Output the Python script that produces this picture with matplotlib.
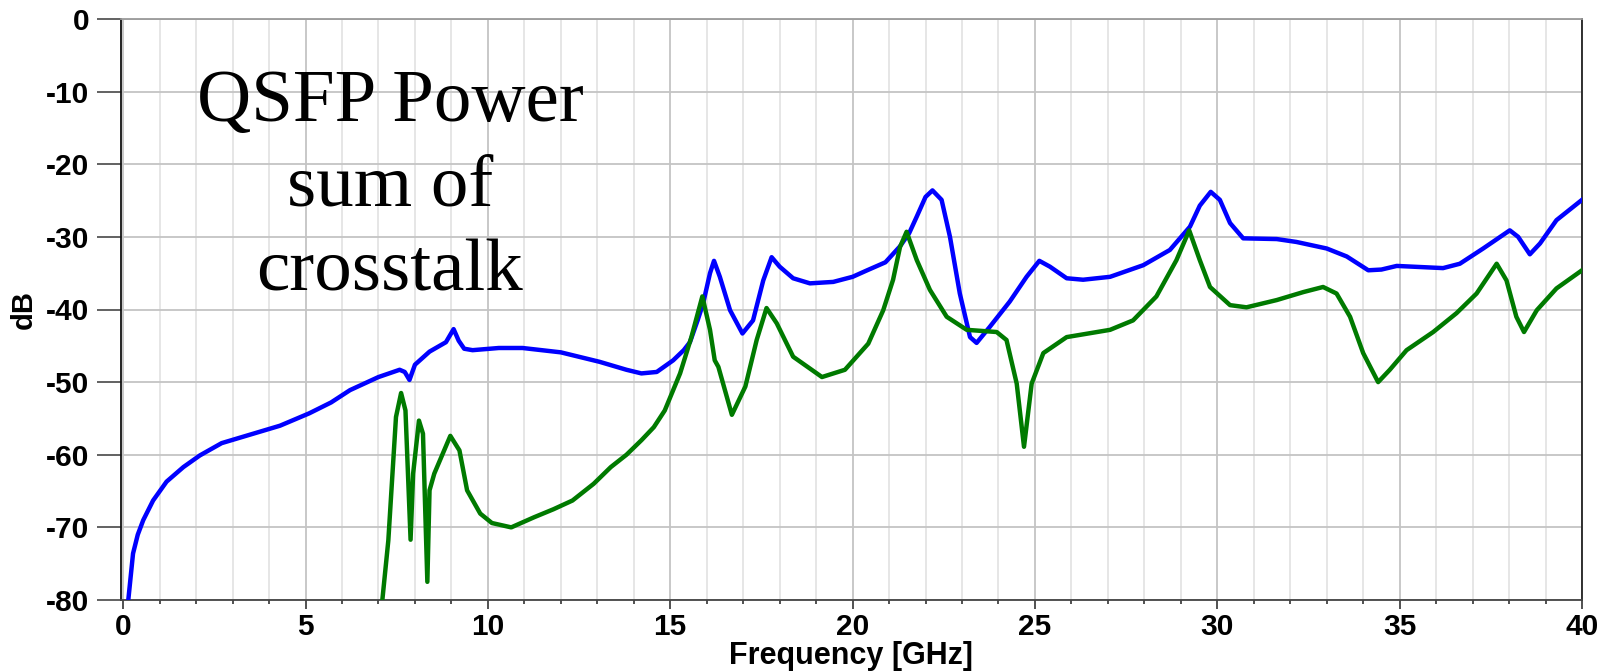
import numpy as np
import matplotlib
matplotlib.use("Agg")
import matplotlib.pyplot as plt
from matplotlib.ticker import MultipleLocator

# blue trace (GHz, dB)
blue_f = [0.08, 0.14, 0.27, 0.4, 0.55, 0.82, 1.19, 1.65, 2.1, 2.7, 3.5, 4.3, 5.1, 5.7,
          6.22, 7.0, 7.58, 7.72, 7.85, 8.0, 8.4, 8.85, 9.06, 9.2, 9.35, 9.58, 10.3,
          10.95, 12.0, 13.06, 13.8, 14.21, 14.63, 15.08, 15.37, 15.54, 15.75, 15.9,
          16.09, 16.2, 16.36, 16.64, 16.98, 17.27, 17.55, 17.78, 18.0, 18.37, 18.83,
          19.47, 20.0, 20.4, 20.9, 21.3, 21.55, 21.76, 22.0, 22.19, 22.44, 22.67,
          22.94, 23.22, 23.4, 23.76, 24.31, 24.77, 25.12, 25.41, 25.87, 26.32, 27.06,
          27.97, 28.7, 29.25, 29.52, 29.82, 30.07, 30.35, 30.71, 31.63, 32.17, 33.0,
          33.55, 34.14, 34.5, 34.92, 36.19, 36.65, 37.29, 38.02, 38.25, 38.57, 38.85,
          39.3, 40.0]
blue_db = [-82, -80, -73.6, -71, -69.0, -66.3, -63.7, -61.7, -60.1, -58.4, -57.2, -56.0,
           -54.3, -52.8, -51.1, -49.3, -48.3, -48.6, -49.7, -47.6, -45.8, -44.5, -42.7,
           -44.3, -45.4, -45.6, -45.3, -45.3, -45.9, -47.2, -48.3, -48.8, -48.6, -47.0,
           -45.6, -44.5, -41.5, -39.2, -35.0, -33.3, -35.5, -40.1, -43.3, -41.5, -36.0,
           -32.8, -34.1, -35.7, -36.4, -36.2, -35.5, -34.6, -33.5, -31.3, -29.5, -27.2,
           -24.5, -23.6, -24.9, -30.0, -37.8, -43.8, -44.6, -42.4, -38.9, -35.5, -33.3,
           -34.1, -35.7, -35.9, -35.5, -33.9, -31.8, -28.6, -25.7, -23.8, -24.9, -28.1,
           -30.2, -30.3, -30.7, -31.6, -32.7, -34.6, -34.5, -34.0, -34.3, -33.7, -31.6,
           -29.1, -30.0, -32.4, -30.9, -27.7, -24.9]

# green trace (GHz, dB)
green_f = [6.98, 7.11, 7.27, 7.48, 7.62, 7.74, 7.88, 7.95, 8.11, 8.22, 8.34, 8.4, 8.53,
           8.97, 9.22, 9.43, 9.79, 10.11, 10.64, 11.27, 11.8, 12.32, 12.9, 13.37, 13.8,
           14.21, 14.55, 14.85, 15.27, 15.58, 15.88, 16.09, 16.22, 16.32, 16.69, 17.06,
           17.37, 17.64, 17.92, 18.37, 19.16, 19.79, 20.43, 20.84, 21.11, 21.3, 21.48,
           21.76, 22.12, 22.58, 23.13, 23.95, 24.22, 24.5, 24.7, 24.91, 25.23, 25.87,
           27.06, 27.69, 28.33, 28.88, 29.23, 29.52, 29.8, 30.35, 30.8, 31.63, 32.36,
           32.9, 33.27, 33.64, 34.0, 34.41, 34.73, 35.19, 35.92, 36.56, 37.11, 37.66,
           37.93, 38.2, 38.41, 38.76, 39.3, 40.0]
green_db = [-86, -79.8, -71.8, -54.8, -51.5, -53.9, -71.7, -62.6, -55.3, -57.1, -77.5,
            -64.9, -62.6, -57.4, -59.4, -64.9, -68.1, -69.4, -70.0, -68.6, -67.5, -66.3,
            -64.0, -61.7, -60.0, -58.0, -56.2, -53.9, -48.8, -43.8, -38.2, -42.8, -47.0,
            -47.9, -54.5, -50.6, -44.2, -39.8, -41.9, -46.5, -49.3, -48.3, -44.7, -40.1,
            -35.9, -31.4, -29.3, -33.2, -37.3, -41.0, -42.8, -43.1, -44.2, -50.2, -58.9,
            -50.2, -46.0, -43.8, -42.8, -41.5, -38.2, -33.2, -29.1, -33.2, -36.9, -39.4,
            -39.7, -38.7, -37.6, -36.9, -37.8, -41.0, -46.0, -50.0, -48.3, -45.6, -43.1,
            -40.5, -37.8, -33.7, -36.0, -41.0, -43.1, -40.1, -37.1, -34.6]

title_lines = ["QSFP Power", "sum of", "crosstalk"]

plt.rcParams['font.family'] = ['Liberation Sans', 'DejaVu Sans']
plt.rcParams['axes.unicode_minus'] = False

fig = plt.figure(figsize=(16.24, 6.72), dpi=100)
ax = fig.add_axes([121 / 1624, 1 - 600 / 672, (1582 - 121) / 1624, (600 - 19) / 672])

ax.plot(blue_f, blue_db, color='#0000ff', lw=3.2, solid_joinstyle='round', zorder=3)
ax.plot(green_f, green_db, color='#007a00', lw=3.2, solid_joinstyle='round', zorder=3)

ax.set_xlim(-0.06, 40)
ax.set_ylim(-80, 0)
ax.xaxis.set_major_locator(MultipleLocator(5))
ax.xaxis.set_minor_locator(MultipleLocator(1))
ax.yaxis.set_major_locator(MultipleLocator(10))

ax.grid(which='major', axis='x', color='#c4c4c4', lw=1.3)
ax.grid(which='minor', axis='x', color='#e4e4e4', lw=1.3)
ax.grid(which='major', axis='y', color='#c4c4c4', lw=1.3)
ax.set_axisbelow(True)

ax.tick_params(axis='y', which='major', length=17, width=1.3, color='#555555',
               pad=6, labelsize=21.5)
ax.tick_params(axis='x', which='major', length=6.5, width=1.2, color='#333333',
               pad=3, labelsize=21.5)
ax.tick_params(axis='x', which='minor', length=3, width=1.2, color='#333333')
for lab in ax.get_xticklabels() + ax.get_yticklabels():
    lab.set_fontweight('bold')

ax.spines['left'].set_color('#111111')
ax.spines['right'].set_color('#222222')
ax.spines['bottom'].set_color('#444444')
ax.spines['top'].set_color('#9a9a9a')
for s in ax.spines.values():
    s.set_linewidth(1.3)

ax.set_xlabel('Frequency [GHz]', fontsize=22, fontweight='bold', labelpad=0)
ax.set_ylabel('dB', fontsize=21, fontweight='bold', labelpad=6)

# annotation text, one line per baseline
for i, line in enumerate(title_lines):
    fig.text(390 / 1624, 1 - (120.7 + 84.7 * i) / 672, line, ha='center', va='baseline',
             fontsize=54, family='Liberation Serif', color='black')

fig.savefig('out.png', dpi=100)
